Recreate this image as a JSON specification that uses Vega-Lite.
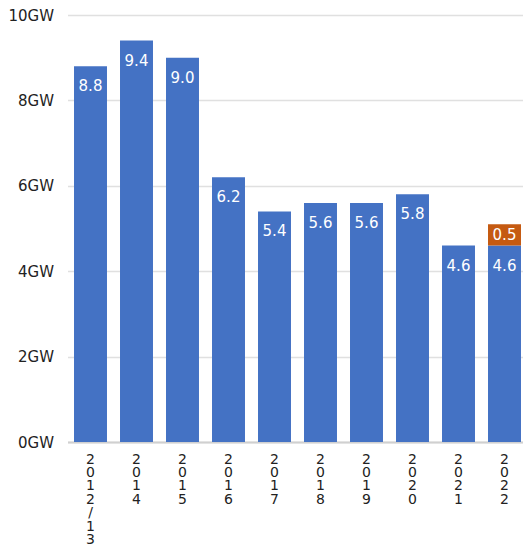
{
  "$schema": "https://vega.github.io/schema/vega-lite/v6.json",
  "width": 460,
  "height": 427,
  "autosize": "none",
  "padding": {"left": 67.5, "top": 15, "right": 0, "bottom": 103},
  "config": {"view": {"stroke": null}, "font": "DejaVu Sans"},
  "data": {
    "values": [
      {"year": "2012/13", "type": "base", "ord": 1, "value": 8.8},
      {"year": "2014", "type": "base", "ord": 1, "value": 9.4},
      {"year": "2015", "type": "base", "ord": 1, "value": 9.0},
      {"year": "2016", "type": "base", "ord": 1, "value": 6.2},
      {"year": "2017", "type": "base", "ord": 1, "value": 5.4},
      {"year": "2018", "type": "base", "ord": 1, "value": 5.6},
      {"year": "2019", "type": "base", "ord": 1, "value": 5.6},
      {"year": "2020", "type": "base", "ord": 1, "value": 5.8},
      {"year": "2021", "type": "base", "ord": 1, "value": 4.6},
      {"year": "2022", "type": "base", "ord": 1, "value": 4.6},
      {"year": "2022", "type": "extra", "ord": 2, "value": 0.5}
    ]
  },
  "encoding": {
    "x": {
      "field": "year",
      "type": "nominal",
      "sort": null,
      "title": null,
      "scale": {"paddingInner": 0.283, "paddingOuter": 0.1415},
      "axis": {
        "labelAngle": 0,
        "labelExpr": "split(datum.label, '')",
        "labelLineHeight": 13.4,
        "labelBaseline": "top",
        "labelFontSize": 14,
        "labelColor": "#222222",
        "labelPadding": 10,
        "labelOverlap": false,
        "labelBound": false,
        "ticks": false,
        "domainColor": "#d0d0d0",
        "domainWidth": 2
      }
    }
  },
  "layer": [
    {
      "mark": {"type": "bar"},
      "encoding": {
        "y": {
          "field": "value",
          "type": "quantitative",
          "stack": "zero",
          "title": null,
          "scale": {"domain": [0, 10]},
          "axis": {
            "values": [0, 2, 4, 6, 8, 10],
            "labelExpr": "datum.value + 'GW'",
            "labelFontSize": 15,
            "labelColor": "#222222",
            "labelPadding": 14,
            "domain": false,
            "ticks": false,
            "gridColor": "#e0e0e0",
            "gridWidth": 1.5
          }
        },
        "color": {
          "field": "type",
          "type": "nominal",
          "scale": {"domain": ["base", "extra"], "range": ["#4472C4", "#C55A11"]},
          "legend": null
        },
        "order": {"field": "ord", "type": "quantitative"}
      }
    },
    {
      "transform": [{"filter": "datum.type == 'base'"}],
      "mark": {"type": "text", "color": "white", "fontSize": 15, "baseline": "middle", "dy": 20},
      "encoding": {
        "y": {"field": "value", "type": "quantitative"},
        "text": {"field": "value", "type": "quantitative", "format": ".1f"}
      }
    },
    {
      "transform": [
        {"stack": "value", "groupby": ["year"], "sort": [{"field": "ord"}], "as": ["v0", "v1"]},
        {"filter": "datum.type == 'extra'"}
      ],
      "mark": {"type": "text", "color": "white", "fontSize": 15, "baseline": "middle", "dy": 11},
      "encoding": {
        "y": {"field": "v1", "type": "quantitative"},
        "text": {"field": "value", "type": "quantitative", "format": ".1f"}
      }
    }
  ]
}
